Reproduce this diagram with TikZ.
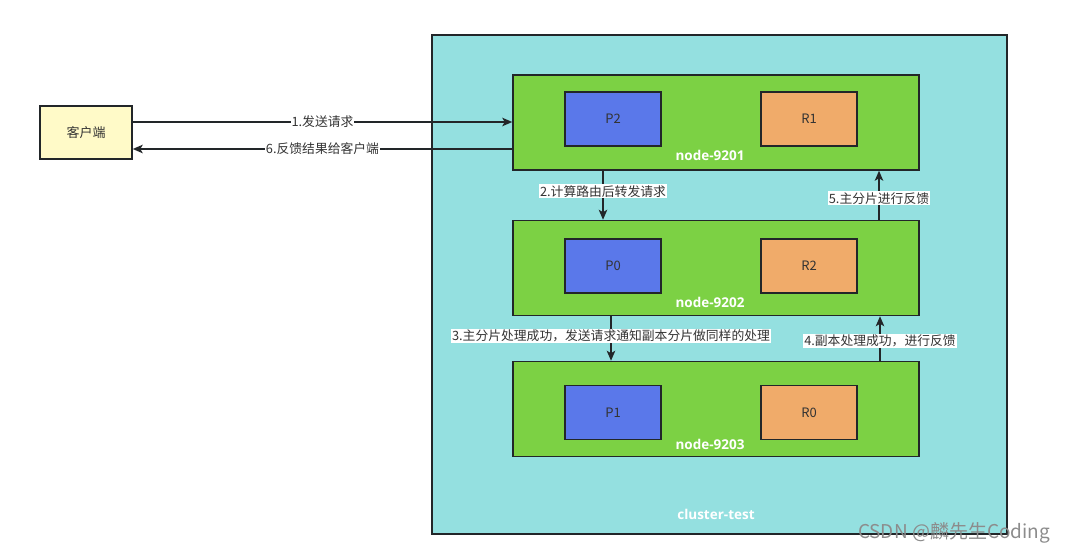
\documentclass[tikz,border=0pt]{standalone}
\usepackage{fontspec}
\setmainfont{Noto Sans CJK SC}
\newfontfamily\boldlat{Open Sans}
\usetikzlibrary{arrows.meta}
\definecolor{clusterc}{HTML}{94E0E0}
\definecolor{greenc}{HTML}{7CD144}
\definecolor{bluec}{HTML}{5A78EA}
\definecolor{orangec}{HTML}{F0AB6A}
\definecolor{yellowc}{HTML}{FFFAC8}
\definecolor{linec}{HTML}{222629}
\definecolor{txtc}{HTML}{333333}
\tikzset{
  box/.style={draw=linec, line width=1.5pt, rectangle, inner sep=0pt},
  shard/.style={box, minimum width=96pt, minimum height=54pt, font=\fontsize{13}{15}\selectfont, text=txtc},
  esnode/.style={box, fill=greenc, minimum width=406pt, minimum height=95pt},
  wlabel/.style={text=white, font=\boldlat\bfseries\fontsize{13.5}{15}\selectfont},
  conn/.style={draw=linec, line width=1.5pt, -{Stealth[length=10pt,width=8.5pt,inset=2.5pt]}},
  elabel/.style={fill=white, inner sep=1pt, text=txtc, font=\fontsize{12.8}{15}\selectfont}
}
\begin{document}
\begin{tikzpicture}[x=1pt,y=-1pt]
\useasboundingbox (0,0) rectangle (1065,553);
% cluster
\node[box, fill=clusterc, minimum width=575pt, minimum height=499pt] (cluster) at (719.5,284.5) {};
\node[wlabel] (cl) at (716,514) {cluster-test};
% client
\node[box, fill=yellowc, minimum width=92pt, minimum height=53pt, font=\fontsize{13}{15}\selectfont, text=txtc] (client) at (86,132.5) {客户端};
% nodes
\node[esnode] (n1) at (716,122.5) {};
\node[esnode] (n2) at (716,268) {};
\node[esnode] (n3) at (716,409) {};
\node[shard, fill=bluec] (p2) at (613,119) {P2};
\node[shard, fill=orangec] (r1) at (809,119) {R1};
\node[wlabel] (l1) at (710,155) {node-9201};
\node[shard, fill=bluec] (p0) at (613,266) {P0};
\node[shard, fill=orangec] (r2) at (809,266) {R2};
\node[wlabel] (l2) at (710,302) {node-9202};
\node[shard, fill=bluec] (p1) at (613,412.5) {P1};
\node[shard, fill=orangec] (r0) at (809,412.5) {R0};
\node[wlabel] (l3) at (710,444) {node-9203};
% connectors
\draw[conn] (client.east |- 0,122) -- node[elabel, pos=0.5] {1.发送请求} (n1.west |- 0,122);
\draw[conn] (n1.west |- 0,149) -- node[elabel, pos=0.5] {6.反馈结果给客户端} (client.east |- 0,149);
\draw[conn] (n1.south -| 603,0) -- node[elabel, pos=0.42] {2.计算路由后转发请求} (n2.north -| 603,0);
\draw[conn] (n2.north -| 879,0) -- node[elabel, pos=0.44] {5.主分片进行反馈} (n1.south -| 879,0);
\draw[conn] (n2.south -| 611,0) -- node[elabel, pos=0.45] {3.主分片处理成功，发送请求通知副本分片做同样的处理} (n3.north -| 611,0);
\draw[conn] (n3.north -| 880,0) -- node[elabel, pos=0.45] {4.副本处理成功，进行反馈} (n2.south -| 880,0);
% watermark
\node[text=black!45, font=\fontsize{19}{21}\selectfont] (wm) at (954,533) {CSDN @麟先生Coding};
\end{tikzpicture}
\end{document}
